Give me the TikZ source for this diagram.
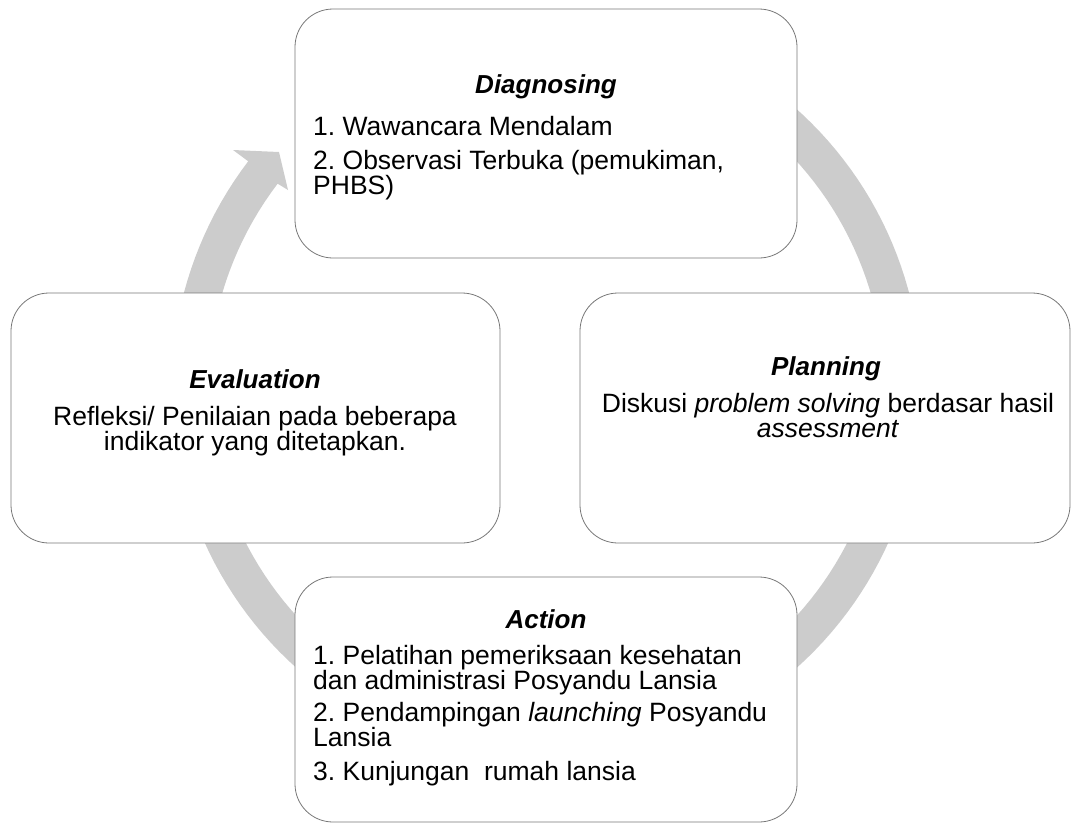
\documentclass[tikz,border=0pt]{standalone}
\usepackage{fontspec}
\setmainfont{Liberation Sans}
\definecolor{ringgray}{RGB}{204,204,204}
\definecolor{boxline}{RGB}{120,120,120}
\frenchspacing
\begin{document}
\begin{tikzpicture}[x=1pt,y=-1pt,
  card/.style={draw=boxline, line width=0.8pt, fill=white, rounded corners=38pt, inner sep=0pt},
  ttl/.style={font=\fontsize{26}{23}\selectfont\bfseries\itshape, inner sep=0pt, anchor=base},
  txt/.style={font=\fontsize{26.5}{23}\selectfont, inner sep=0pt, anchor=base west},
  ctxt/.style={font=\fontsize{26.5}{23}\selectfont, inner sep=0pt, anchor=base}]
\useasboundingbox (0,0) rectangle (1071,825);
% circular arrow
\fill[ringgray] plot[domain=300:577.3, samples=150] ({546.5+375*cos(\x)},{388.5+375*sin(\x)})
  -- (233,150) -- (279,152) -- (288,190)
  -- plot[domain=577.3:300, samples=150] ({546.5+338*cos(\x)},{388.5+338*sin(\x)}) -- cycle;
% boxes
\node[card, minimum width=502pt, minimum height=249pt] (diag) at (546,133.5) {};
\node[card, minimum width=490pt, minimum height=250pt] (plan) at (825,418) {};
\node[card, minimum width=489pt, minimum height=250pt] (eval) at (255.5,418) {};
\node[card, minimum width=502pt, minimum height=245pt] (act) at (546,699.5) {};
% Diagnosing
\node[ttl] (diagT) at (546,93) {Diagnosing};
\node[txt] (diag1) at (313,135) {1. Wawancara Mendalam};
\node[txt] (diag2) at (313,169) {2. Observasi Terbuka (pemukiman,};
\node[txt] (diag3) at (313,194.5) {PHBS)};
% Planning
\node[ttl] (planT) at (826,375) {Planning};
\node[ctxt] (plan1) at (828,412) {Diskusi \textit{problem solving} berdasar hasil};
\node[ctxt] (plan2) at (828,437.5) {\textit{assessment}};
% Evaluation
\node[ttl] (evalT) at (255,388) {Evaluation};
\node[ctxt] (eval1) at (255,425) {Refleksi/ Penilaian pada beberapa};
\node[ctxt] (eval2) at (255,450.5) {indikator yang ditetapkan.};
% Action
\node[ttl] (actT) at (546,628) {Action};
\node[txt] (act1) at (313,664) {1. Pelatihan pemeriksaan kesehatan};
\node[txt] (act2) at (313,689.5) {dan administrasi Posyandu Lansia};
\node[txt] (act3) at (313,721) {2. Pendampingan \textit{launching} Posyandu};
\node[txt] (act4) at (313,746.5) {Lansia};
\node[txt] (act5) at (313,780) {3. Kunjungan~ rumah lansia};
\end{tikzpicture}
\end{document}
